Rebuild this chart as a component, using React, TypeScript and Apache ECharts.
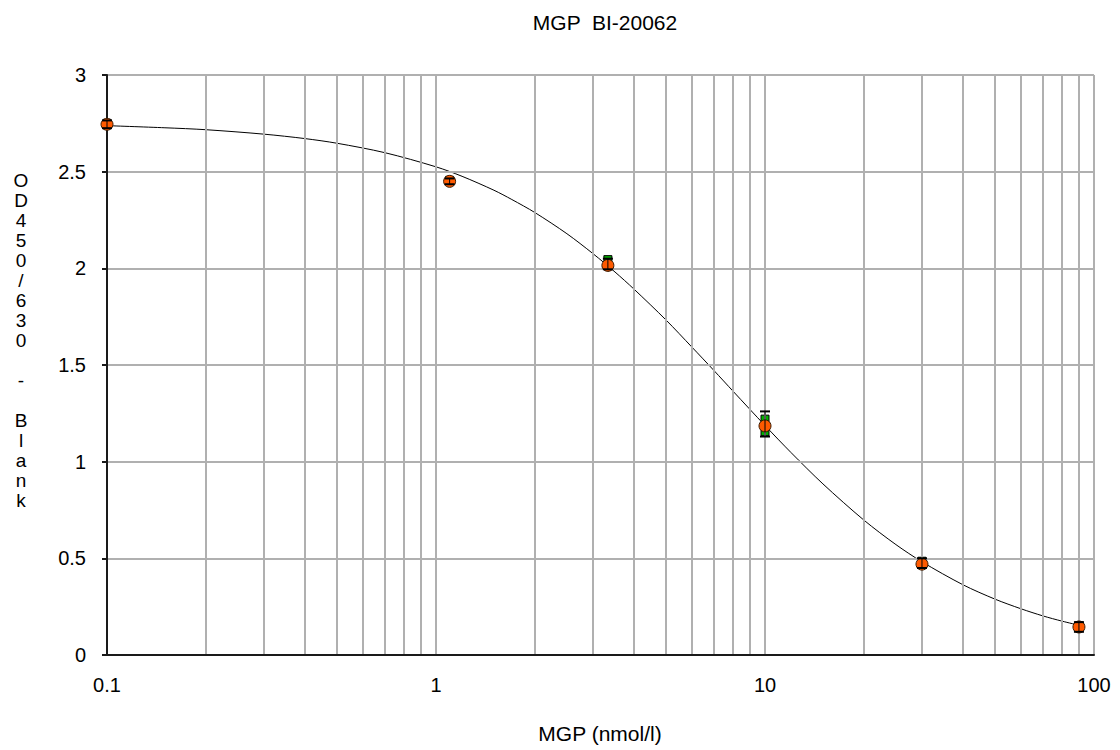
import React, { useEffect, useRef } from "react";
import * as echarts from "echarts";

const titleText = "MGP  BI-20062";
const xTitle = "MGP (nmol/l)";
const yTitle = "OD450/630 - Blank";

const concentrations = [0.1, 1.1, 3.33, 10, 30, 90];
const orangeValues = [2.745, 2.45, 2.015, 1.185, 0.47, 0.145];
const greenValues = [2.75, 2.455, 2.045, 1.22, 0.485, 0.15];
const greenExtraX = [10];
const greenExtraY = [1.155];
const errLow = [2.725, 2.435, 1.995, 1.13, 0.45, 0.12];
const errHigh = [2.765, 2.465, 2.05, 1.26, 0.5, 0.17];

const curveX = [0.1, 0.15, 0.2, 0.3, 0.4, 0.5, 0.7, 1, 1.2, 1.5, 1.7, 2, 2.5, 3, 3.5, 4, 5, 6, 7, 8, 10, 12, 15, 20, 25, 30, 40, 50, 60, 70, 80, 90];
const curveY = [2.738, 2.727, 2.717, 2.694, 2.671, 2.647, 2.598, 2.525, 2.476, 2.404, 2.356, 2.288, 2.179, 2.076, 1.981, 1.892, 1.733, 1.592, 1.471, 1.364, 1.187, 1.047, 0.885, 0.697, 0.571, 0.482, 0.363, 0.289, 0.239, 0.202, 0.175, 0.154];

const minorGridX = [0.2, 0.3, 0.4, 0.5, 0.6, 0.7, 0.8, 0.9, 2, 3, 4, 5, 6, 7, 8, 9, 20, 30, 40, 50, 60, 70, 80, 90];

const FONT = "'Liberation Sans', Arial, sans-serif";
const GRID_COLOR = "#b0b0b0";
const AXIS_COLOR = "#1a1a1a";

export default function App() {
  const ref = useRef<HTMLDivElement>(null);
  useEffect(() => {
    if (!ref.current) return;
    const chart = echarts.init(ref.current, undefined, { renderer: "svg" });
    const option = {
      animation: false,
      backgroundColor: "#ffffff",
      textStyle: { fontFamily: FONT },
      title: {
        text: titleText,
        left: 600,
        textAlign: "center",
        top: 7,
        textStyle: { fontSize: 21, fontWeight: "normal", color: "#000", fontFamily: FONT },
      },
      grid: { left: 107, right: 26, top: 75, bottom: 95, containLabel: false, show: false },
      xAxis: {
        type: "log",
        logBase: 10,
        min: 0.1,
        max: 100,
        axisLine: { show: true, onZero: false, lineStyle: { color: AXIS_COLOR, width: 2 } },
        axisTick: { show: false },
        axisLabel: {
          color: "#000",
          fontSize: 20,
          margin: 20,
          fontFamily: FONT,
          formatter: (v: number) => String(Number(v.toPrecision(3))),
        },
        splitLine: { show: true, lineStyle: { color: GRID_COLOR, width: 2 } },
        z: 5,
      },
      yAxis: {
        type: "value",
        min: 0,
        max: 3,
        interval: 0.5,
        axisLine: { show: true, lineStyle: { color: AXIS_COLOR, width: 2 } },
        axisTick: { show: true, length: 5, lineStyle: { color: AXIS_COLOR, width: 2 } },
        axisLabel: { color: "#000", fontSize: 20, margin: 21, fontFamily: FONT },
        splitLine: { show: true, lineStyle: { color: GRID_COLOR, width: 2 } },
        z: 5,
      },
      graphic: [
        {
          type: "text",
          x: 21,
          y: 170,
          style: {
            text: yTitle.split("").join("\n"),
            fontSize: 19,
            lineHeight: 20,
            fill: "#000",
            fontFamily: FONT,
            align: "center",
            verticalAlign: "top",
          },
        },
        {
          type: "text",
          x: 600,
          y: 723,
          style: { text: xTitle, fontSize: 21, fill: "#000", fontFamily: FONT, align: "center", verticalAlign: "top" },
        },
      ],
      series: [
        {
          type: "line",
          name: "minor",
          data: [],
          silent: true,
          markLine: {
            silent: true,
            symbol: "none",
            label: { show: false },
            lineStyle: { color: GRID_COLOR, width: 2, type: "solid" },
            data: minorGridX.map((x) => ({ xAxis: x })),
          },
          z: 1,
        },
        {
          type: "line",
          name: "fit",
          data: curveX.map((x, i) => [x, curveY[i]]),
          smooth: 0.3,
          showSymbol: false,
          symbol: "none",
          lineStyle: { color: "#000", width: 1 },
          z: 3,
        },
        {
          type: "scatter",
          name: "rep1",
          data: concentrations
            .map((x, i) => [x, greenValues[i]])
            .concat(greenExtraX.map((x, i) => [x, greenExtraY[i]])),
          symbol: "rect",
          symbolSize: 8,
          itemStyle: { color: "#00b000", borderColor: "#000", borderWidth: 1, opacity: 1 },
          z: 4,
        },
        {
          type: "scatter",
          name: "rep2",
          data: concentrations.map((x, i) => [x, orangeValues[i]]),
          symbol: "circle",
          symbolSize: 12,
          itemStyle: { color: "#ff5a00", borderColor: "#3a1a00", borderWidth: 1, opacity: 1 },
          z: 5,
        },
        {
          type: "custom",
          name: "err",
          data: concentrations.map((x, i) => [x, errLow[i], errHigh[i]]),
          renderItem: (params: any, api: any) => {
            const x = api.value(0);
            const lo = api.coord([x, api.value(1)]);
            const hi = api.coord([x, api.value(2)]);
            const w = 5;
            const style = { stroke: "#000", lineWidth: 2 };
            return {
              type: "group",
              children: [
                { type: "line", shape: { x1: lo[0], y1: lo[1], x2: hi[0], y2: hi[1] }, style: { stroke: "#000", lineWidth: 1 } },
                { type: "line", shape: { x1: lo[0] - w, y1: lo[1], x2: lo[0] + w, y2: lo[1] }, style },
                { type: "line", shape: { x1: hi[0] - w, y1: hi[1], x2: hi[0] + w, y2: hi[1] }, style },
              ],
            };
          },
          z: 6,
        },
      ],
    };
    chart.setOption(option as any);
    return () => chart.dispose();
  }, []);
  return (
    <div
      ref={ref}
      style={{ position: "absolute", left: 0, top: 0, width: 1120, height: 750 }}
    />
  );
}
